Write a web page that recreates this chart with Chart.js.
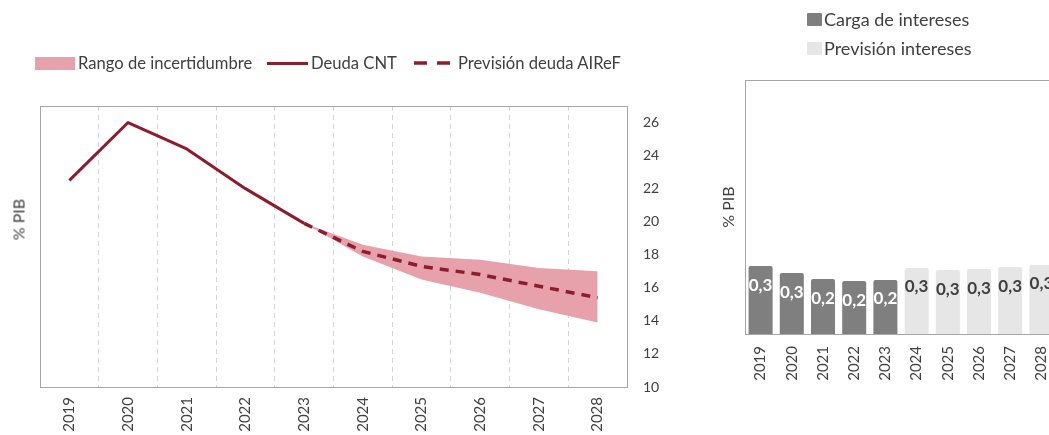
<!DOCTYPE html>
<html>
<head>
<meta charset="utf-8">
<script src="https://cdn.jsdelivr.net/npm/chart.js@4/dist/chart.umd.min.js"></script>
<style>
  html, body { margin:0; padding:0; background:#fff; overflow:hidden; width:1049px; height:435px; }
  body { position:relative; font-family: Lato, "Open Sans", sans-serif; color:#404040; }
  #c1wrap { position:absolute; left:0; top:0; width:680px; height:435px; }
  #c2wrap { position:absolute; left:700px; top:0; width:400px; height:435px; }
  .leg { position:absolute; display:flex; align-items:center; white-space:nowrap; }
  .legL { font-size:16.6px; top:54px; height:18px; }
  .legR { font-size:18px; height:20px; }
  .sw { display:inline-block; margin-right:3px; }
  .ytitle { position:absolute; font-size:16px; transform-origin:center center; transform:rotate(-90deg); white-space:nowrap; }
</style>
</head>
<body>
<div id="c1wrap"><canvas id="c1" width="680" height="435"></canvas></div>
<div id="c2wrap"><canvas id="c2" width="400" height="435"></canvas></div>

<div class="leg legL" style="left:35px;"><span class="sw" style="width:40px;height:13px;background:#E6A1AA;"></span>Rango de incertidumbre</div>
<div class="leg legL" style="left:267px;"><span class="sw" style="width:41px;height:3px;background:#8C1D2F;"></span>Deuda CNT</div>
<div class="leg legL" style="left:414px;"><svg class="sw" width="36" height="4" style="margin-right:8px"><line x1="0" y1="2" x2="36" y2="2" stroke="#8C1D2F" stroke-width="3.5" stroke-dasharray="13 10"/></svg>Previsión deuda AIReF</div>

<div class="leg legR" style="left:807px;top:9px;"><span class="sw" style="width:15px;height:13px;background:#7F7F7F;border-radius:1px;margin-right:2px"></span>Carga de intereses</div>
<div class="leg legR" style="left:807px;top:38px;"><span class="sw" style="width:15px;height:13px;background:#E6E6E6;border-radius:1px;margin-right:2px"></span>Previsión intereses</div>

<div class="ytitle" style="left:-4px;top:210px;width:44px;text-align:center;">% PIB</div>

<script>
// ---------- DATA ----------
const years = ['2019','2020','2021','2022','2023','2024','2025','2026','2027','2028'];
const deudaCNT      = [22.5, 26.0, 24.4, 22.0, 19.9, null, null, null, null, null];
const prevDeuda     = [null, null, null, null, 19.9, 18.2, 17.3, 16.8, 16.1, 15.4];
const rangoSuperior = [null, null, null, null, 19.9, 18.6, 17.9, 17.7, 17.2, 17.0];
const rangoInferior = [null, null, null, null, 19.9, 17.9, 16.5, 15.7, 14.7, 13.9];
const yTicksLeft    = [10, 12, 14, 16, 18, 20, 22, 24, 26];

const cargaIntereses  = [0.294, 0.264, 0.238, 0.229, 0.234, null, null, null, null, null];
const prevIntereses   = [null, null, null, null, null, 0.286, 0.277, 0.281, 0.290, 0.299];

// ---------- STYLE ----------
const RED = '#8C1D2F', PINK = '#E6A1AA', TXT = '#404040', BOX = '#A6A6A6';
const FONT = 'Lato, "Open Sans", sans-serif';

const boxPlugin = {
  id: 'boxPlugin',
  afterDraw(chart) {
    const {ctx, chartArea: a} = chart;
    ctx.save();
    ctx.strokeStyle = BOX;
    ctx.lineWidth = 1;
    ctx.strokeRect(Math.round(a.left) + 0.5, Math.round(a.top) + 0.5, Math.round(a.right - a.left), Math.round(a.bottom - a.top));
    ctx.restore();
  }
};

// ---------- CHART 1 ----------
new Chart(document.getElementById('c1'), {
  type: 'line',
  data: {
    labels: years,
    datasets: [
      { label: 'Deuda CNT', data: deudaCNT, borderColor: RED, borderWidth: 3, pointRadius: 0, fill: false, order: 0, borderJoinStyle: 'round', spanGaps: false },
      { label: 'Previsión deuda AIReF', data: prevDeuda, borderColor: RED, borderWidth: 3.5, borderDash: [9, 7], pointRadius: 0, fill: false, order: 0 },
      { label: 'Rango de incertidumbre', data: rangoSuperior, borderWidth: 0, borderColor: 'rgba(0,0,0,0)', backgroundColor: PINK, pointRadius: 0, fill: '+1', order: 2 },
      { label: 'Rango inferior', data: rangoInferior, borderWidth: 0, borderColor: 'rgba(0,0,0,0)', pointRadius: 0, fill: false, order: 3 }
    ]
  },
  options: {
    responsive: false,
    animation: false,
    layout: { padding: { top: 106, right: 0, bottom: 0, left: 0 } },
    plugins: { legend: { display: false }, tooltip: { enabled: false } },
    scales: {
      x: {
        type: 'category',
        offset: true,
        grid: { offset: true, color: c => (c.index === 0 ? 'rgba(0,0,0,0)' : '#D4D4D4'), lineWidth: 1, drawTicks: false },
        border: { display: false, dash: [5, 4] },
        ticks: { maxRotation: 90, minRotation: 90, padding: 10, color: TXT, font: { family: FONT, size: 15 } },
        afterFit(s) { s.height = 48; }
      },
      y: {
        position: 'right',
        min: 10, max: 27,
        grid: { display: false, drawTicks: false },
        border: { display: false },
        afterBuildTicks(s) { s.ticks = yTicksLeft.map(v => ({ value: v })); },
        ticks: { padding: 16, color: TXT, font: { family: FONT, size: 14 } },
        afterFit(s) { s.width = 53; }
      },
      yL: {
        position: 'left',
        display: true,
        grid: { display: false, drawTicks: false },
        border: { display: false },
        ticks: { display: false },
        afterFit(s) { s.width = 40; }
      }
    }
  },
  plugins: [boxPlugin]
});

// ---------- CHART 2 ----------
const labelPlugin = {
  id: 'barLabels',
  afterDatasetsDraw(chart) {
    const {ctx} = chart;
    ctx.save();
    ctx.font = 'bold 17px ' + FONT;
    ctx.textAlign = 'center';
    ctx.textBaseline = 'middle';
    chart.data.datasets.forEach((ds, di) => {
      const meta = chart.getDatasetMeta(di);
      ctx.fillStyle = di === 0 ? '#FFFFFF' : TXT;
      meta.data.forEach((el, i) => {
        const v = ds.data[i];
        if (v === null || v === undefined) return;
        ctx.fillText(v.toFixed(1).replace('.', ','), el.x, el.y + 19);
      });
    });
    ctx.restore();
  }
};

new Chart(document.getElementById('c2'), {
  type: 'bar',
  data: {
    labels: years,
    datasets: [
      { label: 'Carga de intereses', data: cargaIntereses, backgroundColor: '#7F7F7F', grouped: false, barPercentage: 0.77, categoryPercentage: 1.0, borderRadius: 2 },
      { label: 'Previsión intereses', data: prevIntereses, backgroundColor: '#E6E6E6', grouped: false, barPercentage: 0.77, categoryPercentage: 1.0, borderRadius: 2 }
    ]
  },
  options: {
    responsive: false,
    animation: false,
    layout: { padding: { top: 80, right: 43, bottom: 0, left: 0 } },
    plugins: { legend: { display: false }, tooltip: { enabled: false } },
    scales: {
      x: {
        grid: { display: false, drawTicks: false },
        border: { display: false },
        ticks: { maxRotation: 90, minRotation: 90, padding: 12, color: TXT, font: { family: FONT, size: 15 } },
        afterFit(s) { s.height = 101; }
      },
      y: {
        min: 0, max: 1.1,
        grid: { display: false, drawTicks: false },
        border: { display: false },
        ticks: { display: false },
        title: { display: true, text: '% PIB', color: TXT, font: { family: FONT, size: 16 }, padding: { top: 19, bottom: 0 } },
        afterFit(s) { s.width = 45; }
      }
    }
  },
  plugins: [boxPlugin, labelPlugin]
});
</script>
</body>
</html>
